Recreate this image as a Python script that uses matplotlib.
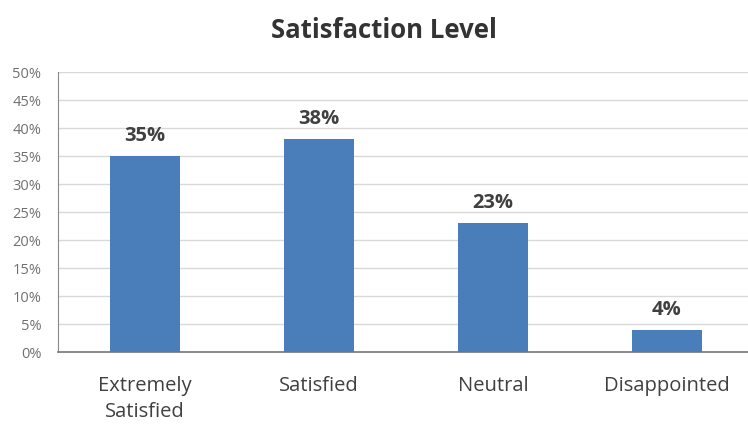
import matplotlib.pyplot as plt
from matplotlib.ticker import PercentFormatter

categories = ["Extremely\nSatisfied", "Satisfied", "Neutral", "Disappointed"]
values = [35, 38, 23, 4]
y_ticks = list(range(0, 51, 5))

plt.rcParams["font.family"] = ["Open Sans", "DejaVu Sans"]

fig = plt.figure(figsize=(7.48, 4.26), dpi=100)
ax = fig.add_axes([58 / 748, 1 - 352 / 426, 690 / 748, 280 / 426])

x = range(len(categories))
ax.bar(x, values, width=0.4, color="#4a7ebb", zorder=3)

# value labels above each bar
for xi, v in zip(x, values):
    ax.text(xi, v + 1.8, f"{v}%", ha="center", va="bottom",
            fontsize=14.5, fontweight="bold", color="#404040")

ax.set_xlim(-0.5, -0.5 + 690 / 174)
ax.set_ylim(0, 50)
ax.set_yticks(y_ticks)
ax.yaxis.set_major_formatter(PercentFormatter(decimals=0))
ax.set_xticks(list(x))
ax.set_xticklabels(categories, fontsize=14.5, color="#404040", linespacing=1.45)

ax.grid(axis="y", color="#d9d9d9", linewidth=1, zorder=0)
ax.tick_params(axis="y", length=0, pad=12, labelsize=10.5, labelcolor="#707070")
ax.tick_params(axis="x", length=0, pad=17)
for s in ["top", "right"]:
    ax.spines[s].set_visible(False)
ax.spines["left"].set_color("#888888")
ax.spines["bottom"].set_color("#777777")
ax.spines["bottom"].set_linewidth(1.2)

fig.text(384 / 748, 1 - 31 / 426, "Satisfaction Level", ha="center", va="center",
         fontsize=18.5, fontweight="bold", color="#333333")

fig.savefig("out.png", dpi=100)
